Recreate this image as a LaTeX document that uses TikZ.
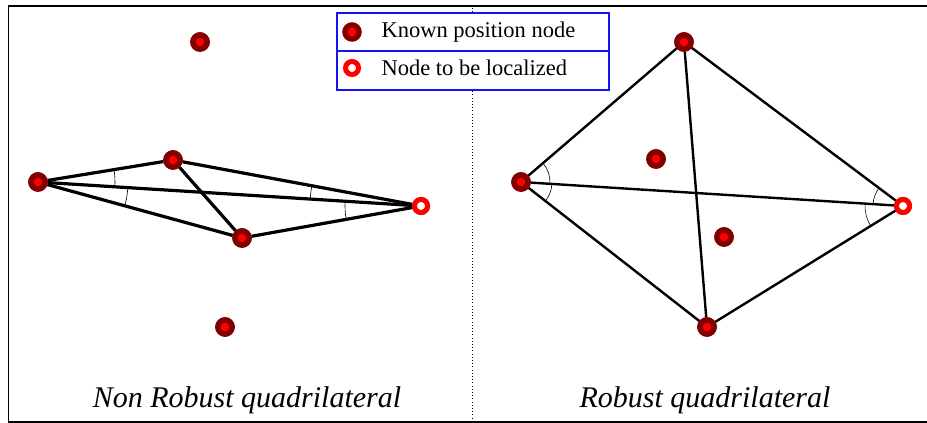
\documentclass[tikz,border=0pt]{standalone}
\usepackage{fontspec}
\setmainfont{Liberation Serif}
\usetikzlibrary{angles}
\definecolor{knowncol}{RGB}{130,0,0}
\definecolor{legblue}{RGB}{20,20,240}
\begin{document}
\begin{tikzpicture}[x=1pt,y=1pt,
  known/.style={circle,draw=knowncol,line width=5.5pt,fill=red,inner sep=0pt,minimum size=14pt},
  target/.style={circle,draw=red,line width=5pt,fill=white,inner sep=0pt,minimum size=13pt},
  thickedge/.style={line width=3.2pt},
  thinedge/.style={line width=2.4pt},
  anglearc/.style={draw,line width=0.6pt},
  title/.style={font=\fontsize{30}{32}\selectfont\itshape,anchor=base},
  legtext/.style={font=\fontsize{22.5}{24}\selectfont,anchor=west}]
\useasboundingbox (0,0) rectangle (927,423);
\fill[white] (0,0) rectangle (927,423);
% frame
\draw[line width=1.4pt] (935,417) -- (8.5,417) -- (8.5,1) -- (935,1);
% dotted separator
\draw[line width=0.8pt,dash pattern=on 1pt off 2.2pt] (472,415) -- (472,2);
% left nodes
\node[known] (LT) at (200,381) {};
\node[known] (A) at (38,241) {};
\node[known] (B) at (173,263) {};
\node[known] (C) at (242,185) {};
\node[target] (T) at (421,217) {};
\node[known] (LB) at (225,96) {};
% right nodes
\node[known] (A2) at (521,241) {};
\node[known] (P) at (684,381) {};
\node[known] (Q1) at (656,264) {};
\node[known] (Q2) at (724,186) {};
\node[known] (R) at (707,96) {};
\node[target] (T2) at (903,217) {};
% left edges
\draw[thickedge] (A) -- (B);
\draw[thickedge] (A) -- (T);
\draw[thickedge] (A) -- (C);
\draw[thickedge] (B) -- (T);
\draw[thickedge] (B) -- (C);
\draw[thickedge] (C) -- (T);
% right edges
\draw[thinedge] (A2) -- (P);
\draw[thinedge] (A2) -- (T2);
\draw[thinedge] (A2) -- (R);
\draw[thinedge] (P) -- (T2);
\draw[thinedge] (P) -- (R);
\draw[thinedge] (R) -- (T2);
% angle arcs left
\pic[anglearc,angle radius=77pt] {angle=T--A--B};
\pic[anglearc,angle radius=90pt] {angle=C--A--T};
\pic[anglearc,angle radius=111pt] {angle=B--T--A};
\pic[anglearc,angle radius=76pt] {angle=A--T--C};
% angle arcs right
\pic[anglearc,angle radius=29pt] {angle=T2--A2--P};
\pic[anglearc,angle radius=31pt] {angle=R--A2--T2};
\pic[anglearc,angle radius=30pt] {angle=P--T2--A2};
\pic[anglearc,angle radius=38pt] {angle=A2--T2--R};
% redraw nodes on top
\node[known] at (LT) {};
\node[known] at (A) {};
\node[known] at (B) {};
\node[known] at (C) {};
\node[target] at (T) {};
\node[known] at (LB) {};
\node[known] at (A2) {};
\node[known] at (P) {};
\node[known] at (Q1) {};
\node[known] at (Q2) {};
\node[known] at (R) {};
\node[target] at (T2) {};
% legend
\filldraw[fill=white,draw=legblue,line width=1.5pt] (337,410) rectangle (609,333);
\draw[draw=legblue,line width=1.5pt] (337,372) -- (609,372);
\node[known] (LK) at (352,391) {};
\node[target] (LL) at (352,355) {};
\node[legtext] (LKt) at (378,391) {Known position node};
\node[legtext] (LLt) at (378,355) {Node to be localized};
% titles
\node[title] (TL) at (247,15) {Non Robust quadrilateral};
\node[title] (TR) at (705,15) {Robust quadrilateral};
\end{tikzpicture}
\end{document}
